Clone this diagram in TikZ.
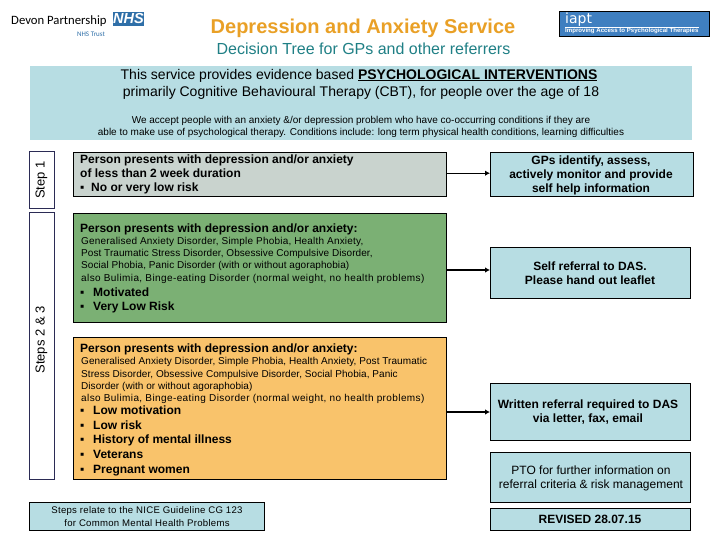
\documentclass[tikz,border=0pt]{standalone}
\usepackage{fontspec}
\setmainfont{Liberation Sans}
\newfontfamily\logofont{Carlito}
\newfontfamily\iaptfont{DejaVu Sans}
\usetikzlibrary{arrows.meta}
\definecolor{paleblue}{HTML}{B7DDE3}
\definecolor{greybox}{HTML}{C9D3CE}
\definecolor{greenbox}{HTML}{7BB074}
\definecolor{orangebox}{HTML}{F9C36B}
\definecolor{titleorange}{HTML}{E9A026}
\definecolor{titleteal}{HTML}{1F7F85}
\definecolor{stepedge}{HTML}{2B2B55}
\definecolor{nhsblue}{HTML}{2F6FA8}
\definecolor{iaptblue}{HTML}{3F7FC0}
\newcommand{\bul}[1][13pt]{\makebox[#1][l]{▪}}
\newcommand{\spc}[2]{{\addfontfeature{LetterSpace=#1}#2}}
\tikzset{
  x=1pt,y=-1pt,
  boxed/.style={draw=black,line width=0.9pt,rectangle,inner sep=0pt,outer sep=0pt},
  stepbox/.style={draw=stepedge,line width=0.9pt,fill=white,rectangle,inner sep=0pt,outer sep=0pt},
  body/.style={font=\fontsize{12}{14}\selectfont\bfseries,anchor=north west,align=left,inner sep=0pt},
  small/.style={font=\fontsize{10}{12.2}\selectfont,anchor=north west,align=left,inner sep=0pt},
  flow/.style={-{Latex[length=5pt,width=5.5pt]},line width=1.3pt},
  right text/.style={font=\fontsize{12}{14}\selectfont\bfseries,align=center,inner sep=0pt}
}
\newcommand{\mkbox}[7]{% name, style, fill, x0, y0, x1, y1
  \node[#2,fill=#3,minimum width=#6pt-#4pt,minimum height=#7pt-#5pt,anchor=north west] (#1) at (#4,#5) {};}
\begin{document}
\begin{tikzpicture}
\useasboundingbox (0,0) rectangle (720,540);
% header
\node[font=\fontsize{12.7}{14}\logofont,inner sep=0pt,anchor=west] (devon) at (11,21) {Devon Partnership};
\mkbox{nhs}{rectangle,inner sep=0pt,outer sep=0pt}{nhsblue}{113}{12}{144}{26}
\node[text=white,font=\fontsize{14.5}{15}\selectfont\bfseries\itshape,inner sep=0pt] (nhst) at (128.5,19) {NHS};
\node[font=\fontsize{7}{8}\logofont,text=nhsblue,inner sep=0pt] (trust) at (91,34.5) {NHS Trust};
\node[font=\fontsize{20}{22}\selectfont\bfseries,text=titleorange,inner sep=0pt] (title) at (363,28) {Depression and Anxiety Service};
\node[font=\fontsize{16}{18}\selectfont,text=titleteal,inner sep=0pt] (subtitle) at (363.5,48.5) {Decision Tree for GPs and other referrers};
\mkbox{iapt}{draw=black,line width=0.8pt,rectangle,inner sep=0pt,outer sep=0pt}{iaptblue}{559}{11.5}{709}{36.5}
\node[font=\fontsize{14}{14}\iaptfont,text=white,inner sep=0pt,anchor=west] (iapttxt) at (565,19.5) {iapt};
\coordinate (ia) at (565,27.2); \coordinate (ib) at (699,27.2);
\draw[white,line width=0.6pt] (ia) -- (ib);
\node[font=\fontsize{6.1}{7}\selectfont\bfseries,text=white,inner sep=0pt,anchor=west] (iaptsub) at (565,31.3) {Improving Access to Psychological Therapies};
% banner
\mkbox{banner}{rectangle,inner sep=0pt,outer sep=0pt}{paleblue}{30}{66}{692}{140}
\node[font=\fontsize{14}{16}\selectfont,inner sep=0pt] (b1) at (359,75.5) {This service provides evidence based \textbf{\underline{PSYCHOLOGICAL INTERVENTIONS}}};
\node[font=\fontsize{14}{16}\selectfont,inner sep=0pt] (b2) at (361,92.5) {primarily Cognitive Behavioural Therapy (CBT), for people over the age of 18};
\node[font=\fontsize{10}{11}\selectfont,inner sep=0pt] (b3) at (361,120.5) {We accept people with an anxiety \&/or depression problem who have co-occurring conditions if they are};
\node[font=\fontsize{10}{11}\selectfont,inner sep=0pt] (b4) at (361,133) {able to make use of psychological therapy. Conditions include: long term physical health conditions, learning difficulties};
% steps
\mkbox{step1}{stepbox}{white}{29}{151}{54}{208}
\node[rotate=90,font=\fontsize{13}{14}\selectfont,inner sep=0pt] (s1t) at (41.5,180) {Step 1};
\mkbox{step23}{stepbox}{white}{29}{212}{54}{479}
\node[rotate=90,font=\fontsize{13}{14}\selectfont,inner sep=0pt] (s2t) at (41.5,340) {Steps 2 \& 3};
% left boxes
\mkbox{grey}{boxed}{greybox}{73}{152}{446}{196}
\node[body] (greyt) at (80,154.5) {Person presents with depression and/or anxiety\\of less than 2 week duration\\\bul[11pt]No or very low risk};
\mkbox{green}{boxed}{greenbox}{73}{213}{446}{322}
\node[body] (gt1) at (80,223.5) {Person presents with depression and/or anxiety:};
\node[small] (gt2) at (81,237) {\spc{2}{Generalised Anxiety Disorder, Simple Phobia, Health Anxiety,}\\\spc{0.6}{Post Traumatic Stress Disorder, Obsessive Compulsive Disorder,}\\\spc{0.8}{Social Phobia, Panic Disorder (with or without agoraphobia)}\\\spc{4}{also Bulimia, Binge-eating Disorder (normal weight, no health problems)}};
\node[body] (gt3) at (80,287.5) {\bul Motivated\\\bul Very Low Risk};
\mkbox{orange}{boxed}{orangebox}{73}{337}{446}{479}
\node[body] (ot1) at (80,343.5) {Person presents with depression and/or anxiety:};
\node[small] (ot2) at (81,357.5) {\spc{0.7}{Generalised Anxiety Disorder, Simple Phobia, Health Anxiety, Post Traumatic}\\\spc{0.6}{Stress Disorder, Obsessive Compulsive Disorder, Social Phobia, Panic}\\\spc{0.5}{Disorder (with or without agoraphobia)}\\\spc{4}{also Bulimia, Binge-eating Disorder (normal weight, no health problems)}};
\node[body,font=\fontsize{12}{14.7}\selectfont\bfseries] (ot3) at (80,405.5) {\bul Low motivation\\\bul Low risk\\\bul History of mental illness\\\bul Veterans\\\bul Pregnant women};
\mkbox{nice}{boxed}{paleblue}{29}{502}{264}{530}
\node[font=\fontsize{9.6}{12.3}\selectfont\addfontfeature{LetterSpace=2.7},align=center,inner sep=0pt] (nicet) at (147,516.5) {Steps relate to the NICE Guideline CG 123\\for Common Mental Health Problems};
% right boxes
\mkbox{r1}{boxed}{paleblue}{490}{152}{693}{196}
\node[right text] (r1t) at (591,175) {GPs identify, assess,\\actively monitor and provide\\self help information};
\mkbox{r2}{boxed}{paleblue}{490}{247}{690}{298}
\node[right text] (r2t) at (590,273.5) {Self referral to DAS.\\Please hand out leaflet};
\mkbox{r3}{boxed}{paleblue}{490}{383}{690}{440}
\node[right text] (r3t) at (588,412) {Written referral required to DAS\\via letter, fax, email};
\mkbox{r4}{boxed}{paleblue}{490}{452}{690}{502}
\node[font=\fontsize{12}{14}\selectfont,align=center,inner sep=0pt] (r4t) at (591,478.5) {PTO for further information on\\referral criteria \& risk management};
\mkbox{r5}{boxed}{paleblue}{490}{508}{690}{530}
\node[right text] (r5t) at (590,519.5) {REVISED 28.07.15};
% connectors
\draw[flow] (grey.east |- 0,173.2) -- (r1.west |- 0,173.2);
\draw[flow] (green.east |- 0,270) -- (r2.west |- 0,270);
\draw[flow] (orange.east |- 0,412) -- (r3.west |- 0,412);
\end{tikzpicture}
\end{document}
